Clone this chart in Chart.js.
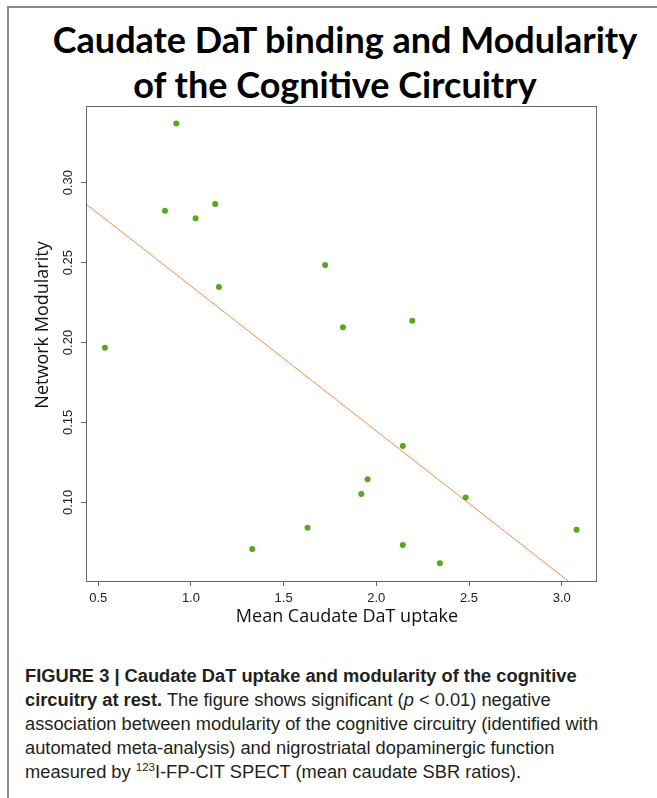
<!DOCTYPE html>
<html>
<head>
<meta charset="utf-8">
<script src="https://cdn.jsdelivr.net/npm/chart.js@4.4.1/dist/chart.umd.min.js"></script>
<style>
  html, body { margin: 0; padding: 0; background: #fff; }
  body { width: 657px; height: 798px; position: relative; overflow: hidden; }
  #frame { position: absolute; left: 7px; top: 6px; width: 660px; height: 800px;
           border-top: 2px solid #8a8a8a; border-left: 2px solid #8a8a8a; }
  #chart { position: absolute; left: 0; top: 0; }
  .title { position: absolute; left: 0; width: 690px; text-align: center;
           font-family: Lato, "Open Sans", sans-serif; font-weight: 700;
           font-size: 36px; color: #000; white-space: nowrap; line-height: 1; }
  #caption { position: absolute; left: 25px; top: 664px; width: 632px;
             font-family: "Liberation Sans Narrow", "Liberation Sans", sans-serif;
             font-size: 18.3px; line-height: 24px; color: #231f20; white-space: nowrap; }
  #caption sup { font-size: 11.5px; line-height: 0; vertical-align: 7px; }
</style>
</head>
<body>
<div id="frame"></div>
<div class="title" style="top:21px">Caudate DaT binding and Modularity</div>
<div class="title" style="top:66px; width:670px">of the Cognitive Circuitry</div>
<canvas id="chart" width="657" height="640"></canvas>
<div id="caption"><b>FIGURE 3 | Caudate DaT uptake and modularity of the cognitive<br>circuitry at rest.</b> The figure shows significant (<i>p</i> &lt; 0.01) negative<br>association between modularity of the cognitive circuitry (identified with<br>automated meta-analysis) and nigrostriatal dopaminergic function<br>measured by <sup>123</sup>I-FP-CIT SPECT (mean caudate SBR ratios).</div>
<script>
// caudate DaT uptake (x) vs network modularity (y), one entry per subject
const uptake = [0.536, 0.860, 0.921, 1.025, 1.131, 1.151, 1.331, 1.629, 1.724,
                1.820, 1.919, 1.953, 2.143, 2.143, 2.194, 2.343, 2.482, 3.080];
const modularity = [0.1967, 0.2825, 0.3370, 0.2777, 0.2867, 0.2348, 0.0708, 0.0841, 0.2485,
                    0.2096, 0.1052, 0.1144, 0.1353, 0.0733, 0.2136, 0.0619, 0.1031, 0.0829];

// regression line, read at the edges of the plot box
const fitX = [0.434, 3.035];
const fitY = [0.2867, 0.0508];

const xTicks = [0.5, 1.0, 1.5, 2.0, 2.5, 3.0];
const yTicks = [0.10, 0.15, 0.20, 0.25, 0.30];
const xRange = [0.434, 3.185];
const yRange = [0.0508, 0.348];

const axisColor = '#666';
const tickFont = { family: '"Liberation Sans", Arial, sans-serif', size: 13 };

// box around the plot plus the two axis labels
const boxAndLabels = {
    id: 'boxAndLabels',
    afterDraw(chart) {
        const {ctx, chartArea: a} = chart;
        ctx.save();
        ctx.strokeStyle = axisColor;
        ctx.lineWidth = 1;
        ctx.strokeRect(a.left + 0.5, a.top + 0.5, a.right - a.left, a.bottom - a.top);
        ctx.fillStyle = '#111';
        ctx.font = '18px "Open Sans", sans-serif';
        ctx.textAlign = 'center';
        ctx.textBaseline = 'alphabetic';
        ctx.fillText('Mean Caudate DaT uptake', 347, 622);
        ctx.translate(48, 325);
        ctx.rotate(-Math.PI / 2);
        ctx.fillText('Network Modularity', 0, 0);
        ctx.restore();
    }
};

new Chart(document.getElementById('chart'), {
    type: 'scatter',
    data: {
        datasets: [
            {
                label: 'subjects',
                data: uptake.map((x, i) => ({x: x, y: modularity[i]})),
                backgroundColor: '#5ca51e',
                borderWidth: 0,
                pointRadius: 3,
                order: 1
            },
            {
                type: 'line',
                label: 'fit',
                data: fitX.map((x, i) => ({x: x, y: fitY[i]})),
                borderColor: '#f08a48',
                borderWidth: 1,
                pointRadius: 0,
                fill: false,
                order: 2
            }
        ]
    },
    plugins: [boxAndLabels],
    options: {
        responsive: false,
        animation: false,
        devicePixelRatio: 1,
        layout: { padding: { top: 106, right: 61, left: 0, bottom: 0 } },
        plugins: { legend: { display: false }, tooltip: { enabled: false } },
        scales: {
            x: {
                type: 'linear',
                min: xRange[0], max: xRange[1],
                afterBuildTicks: s => { s.ticks = xTicks.map(v => ({value: v})); },
                afterFit: s => { s.height = 59; },
                grid: { drawOnChartArea: false, drawTicks: true, tickLength: 5, color: axisColor },
                border: { display: true, color: axisColor },
                ticks: { font: tickFont, color: '#222', padding: 5, maxRotation: 0,
                         callback: v => v.toFixed(1) }
            },
            y: {
                type: 'linear',
                min: yRange[0], max: yRange[1],
                afterBuildTicks: s => { s.ticks = yTicks.map(v => ({value: v})); },
                afterFit: s => { s.width = 86; },
                grid: { drawOnChartArea: false, drawTicks: true, tickLength: 5, color: axisColor },
                border: { display: true, color: axisColor },
                ticks: { font: tickFont, color: '#222', padding: 0, minRotation: 90, maxRotation: 90,
                         crossAlign: 'center', callback: v => v.toFixed(2) }
            }
        }
    }
});
</script>
</body>
</html>
